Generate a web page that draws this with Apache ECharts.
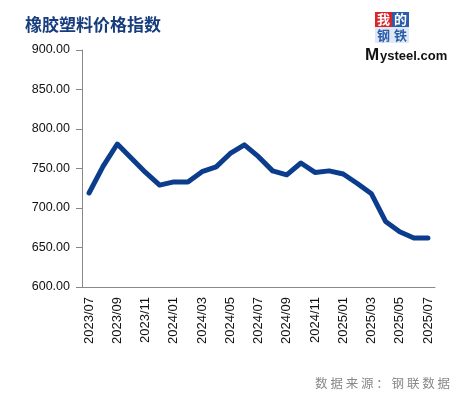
<!DOCTYPE html>
<html>
<head>
<meta charset="utf-8">
<script src="https://cdn.jsdelivr.net/npm/echarts@6/dist/echarts.min.js"></script>
<style>
  html, body { margin: 0; padding: 0; background: #fff; }
  #chart { width: 458px; height: 397px; }
</style>
</head>
<body>
<div id="chart"></div>
<script>
const chartTitle = '橡胶塑料价格指数'
const sourceText = '数据来源：钢联数据'

const months = [
  '2023/07', '2023/08', '2023/09', '2023/10', '2023/11', '2023/12',
  '2024/01', '2024/02', '2024/03', '2024/04', '2024/05', '2024/06',
  '2024/07', '2024/08', '2024/09', '2024/10', '2024/11', '2024/12',
  '2025/01', '2025/02', '2025/03', '2025/04', '2025/05', '2025/06',
  '2025/07',
]
const indexValues = [
  719, 753, 781, 763, 745, 729,
  733, 733, 746, 752, 769, 780,
  765, 747, 742, 757, 745, 747,
  743, 731, 718, 683, 670, 662,
  662,
]
const yMin = 600
const yMax = 900
const yStep = 50

const chart = echarts.init(document.getElementById('chart'))

chart.setOption({
  animation: false,
  backgroundColor: '#fff',
  title: {
    text: chartTitle,
    left: 20,
    top: 11,
    textStyle: {
      fontFamily: 'Noto Sans CJK SC',
      fontSize: 17,
      fontWeight: 'bold',
      color: '#163c7e',
    },
  },
  grid: {
    left: 82,
    right: 23,
    top: 50,
    bottom: 110,
  },
  xAxis: {
    type: 'category',
    data: months,
    boundaryGap: true,
    axisLine: { lineStyle: { color: '#888', width: 1 } },
    axisTick: { interval: 1, length: 5, lineStyle: { color: '#888' } },
    axisLabel: {
      interval: 1,
      rotate: 90,
      margin: 10,
      color: '#111',
      fontFamily: 'Liberation Sans',
      fontSize: 13,
    },
  },
  yAxis: {
    type: 'value',
    min: yMin,
    max: yMax,
    interval: yStep,
    splitLine: { show: false },
    axisLine: { show: true, lineStyle: { color: '#888', width: 1 } },
    axisTick: { show: true, length: 6, lineStyle: { color: '#888' } },
    axisLabel: {
      margin: 12,
      color: '#111',
      fontFamily: 'Liberation Sans',
      fontSize: 12.5,
      formatter: (v) => v.toFixed(2),
    },
  },
  series: [
    {
      type: 'line',
      data: indexValues,
      showSymbol: false,
      lineStyle: { color: '#0b3d8c', width: 5, cap: 'round', join: 'round' },
      itemStyle: { color: '#0b3d8c' },
    },
  ],
  graphic: [
    {
      type: 'group',
      left: 365,
      top: 12,
      children: [
        { type: 'rect', shape: { x: 10, y: 0, width: 17, height: 15 }, style: { fill: '#d8262c' } },
        { type: 'rect', shape: { x: 27, y: 0, width: 17, height: 15 }, style: { fill: '#2a5caa' } },
        { type: 'rect', shape: { x: 10, y: 15, width: 34, height: 16 }, style: { fill: '#dfe8f5' } },
        { type: 'text', x: 18.5, y: 7.5, style: { text: '我', fill: '#fff', fontSize: 13, fontWeight: 'bold', fontFamily: 'Noto Sans CJK SC', align: 'center', verticalAlign: 'middle' } },
        { type: 'text', x: 35.5, y: 7.5, style: { text: '的', fill: '#fff', fontSize: 13, fontWeight: 'bold', fontFamily: 'Noto Sans CJK SC', align: 'center', verticalAlign: 'middle' } },
        { type: 'text', x: 18.5, y: 23, style: { text: '钢', fill: '#2a5caa', fontSize: 13, fontWeight: 'bold', fontFamily: 'Noto Sans CJK SC', align: 'center', verticalAlign: 'middle' } },
        { type: 'text', x: 35.5, y: 23, style: { text: '铁', fill: '#2a5caa', fontSize: 13, fontWeight: 'bold', fontFamily: 'Noto Sans CJK SC', align: 'center', verticalAlign: 'middle' } },
        { type: 'text', x: 0, y: 43, style: { text: 'M', fill: '#111', fontSize: 17, fontWeight: 'bold', fontFamily: 'Liberation Sans', verticalAlign: 'middle' } },
        { type: 'text', x: 15, y: 44, style: { text: 'ysteel.com', fill: '#111', fontSize: 13, fontWeight: 'bold', fontFamily: 'Liberation Sans', verticalAlign: 'middle' } },
      ],
    },
    {
      type: 'text',
      right: 8,
      top: 377,
      style: {
        text: sourceText.split('').join(' '),
        fill: '#888',
        fontSize: 12.5,
        fontFamily: 'Noto Sans CJK SC',
      },
    },
  ],
})
</script>
</body>
</html>
